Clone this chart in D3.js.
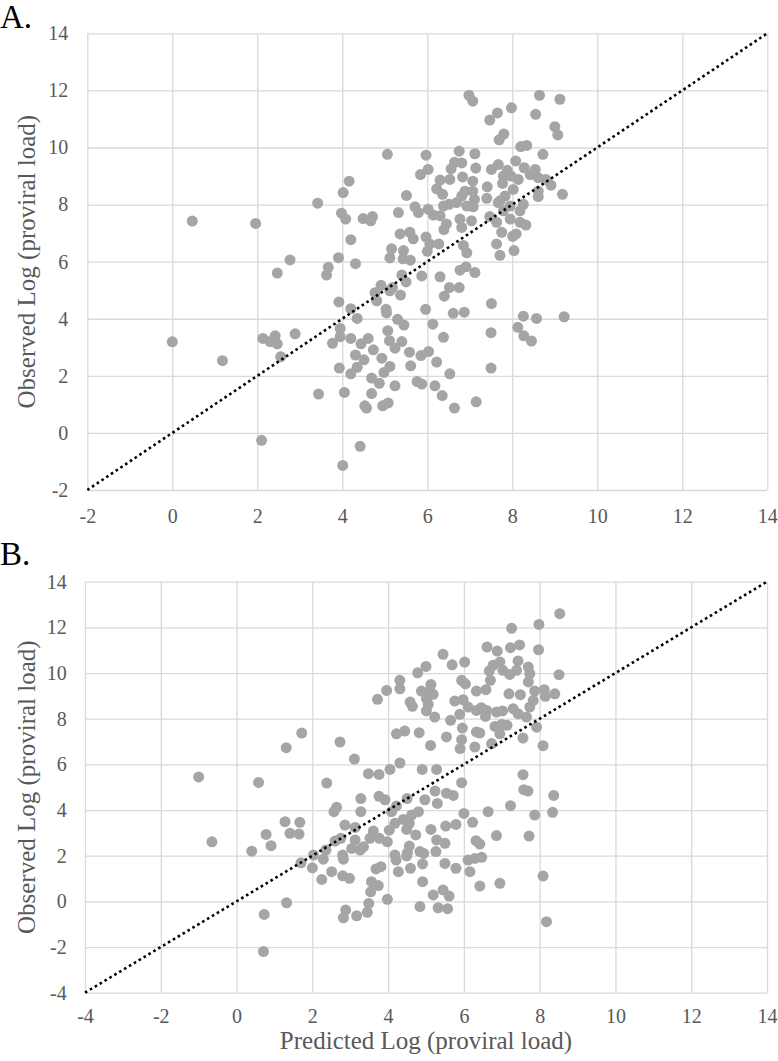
<!DOCTYPE html>
<html>
<head>
<meta charset="utf-8">
<script src="https://cdn.jsdelivr.net/npm/d3@7"></script>
<style>
  html, body { margin: 0; padding: 0; background: #ffffff; }
  svg { display: block; }
  text { font-family: 'Liberation Serif', 'Times New Roman', serif; }
</style>
</head>
<body>
<svg id="chart" width="778" height="1061"></svg>
<script>
// ---------- Panel A data ----------
const aX = [6.98,7.07,8.64,9.12,7.98,7.65,7.47,8.55,9.0,9.07,7.80,7.69,8.2,8.34,8.72,5.06,5.97,6.75,7.12,6.64,6.81,6.56,7.14,6.02,5.84,7.51,7.67,8.08,8.28,8.54,7.88,7.79,7.97,8.14,8.42,8.61,6.83,7.07,6.53,6.3,8.91,8.79,9.18,4.16,4.02,3.42,5.51,6.22,6.36,7.41,7.77,8.02,6.89,7.07,6.81,7.11,7.4,7.83,7.71,8.61,8.61,5.71,5.79,6.02,6.14,6.38,6.51,6.69,6.93,7.08,5.32,6.30,6.45,6.39,6.77,6.81,7.04,7.47,7.63,7.67,7.95,7.79,8.18,8.26,8.18,7.95,8.32,3.98,4.08,4.49,4.71,4.67,4.2,5.36,5.59,5.67,5.97,6.06,6.27,6.0,7.75,7.63,7.71,8.09,8.01,8.04,6.85,6.93,5.16,5.12,5.44,5.43,5.6,3.91,4.31,3.67,3.63,2.77,6.77,6.91,7.12,5.87,6.3,5.4,
  2.47,5.5,4.91,4.77,4.81,5.12,5.37,5.18,6.52,6.75,6.4,3.92,4.2,4.35,5.03,5.04,5.96,7.51,6.61,6.87,5.3,5.45,6.13,8.26,8.57,9.22,8.13,8.27,8.45,7.5,7.5,6.38,0.0,1.18,2.13,2.30,2.42,2.47,2.89,2.55,3.95,3.95,3.77,4.2,4.44,4.61,4.73,5.07,5.11,5.24,5.4,5.58,4.93,5.12,4.98,4.31,4.51,4.35,4.2,3.93,5.85,6.03,6.22,5.61,6.53,4.69,4.87,5.24,5.76,5.87,6.18,6.35,3.44,4.05,4.69,4.53,4.57,4.95,5.08,6.64,7.15,2.1,4.42,4.01,0.47,1.96];
const aY = [11.83,11.62,11.83,11.69,11.39,11.21,10.96,11.16,10.73,10.44,10.47,10.27,10.03,10.07,9.76,9.76,9.73,9.87,9.78,9.48,9.46,9.25,9.28,9.23,9.05,9.23,9.40,9.53,9.29,9.23,9.2,9.0,9.0,8.88,9.05,8.94,8.97,8.82,8.88,8.86,8.68,8.88,8.36,8.82,8.42,8.05,8.32,8.55,8.36,8.62,8.74,8.53,8.47,8.47,8.30,8.18,8.22,8.30,8.13,8.28,8.47,7.92,7.72,7.84,7.63,7.95,8.01,8.07,7.95,7.92,7.72,7.61,7.32,7.12,7.49,7.2,7.43,7.58,7.38,8.07,7.95,7.78,7.78,8.01,7.38,7.49,7.28,7.70,7.49,7.51,7.58,7.43,6.77,6.97,7.03,6.80,6.86,6.62,6.62,6.36,7.03,6.62,6.22,6.97,6.89,6.39,6.57,6.31,6.45,6.13,6.39,6.10,6.05,6.14,5.93,5.80,5.53,6.06,5.70,5.82,5.62,5.50,5.47,5.53,
  5.60,5.29,5.17,4.91,4.63,4.98,4.83,5.09,5.09,5.09,4.79,4.59,4.35,4.01,4.33,4.21,4.33,4.53,4.19,4.23,3.98,3.78,3.81,4.09,4.01,4.07,3.70,3.40,3.22,3.51,2.27,3.35,3.19,2.53,3.31,3.20,3.40,3.12,3.47,2.67,3.66,3.37,3.14,3.31,3.12,3.31,2.91,3.58,3.23,2.97,3.2,2.83,2.62,2.33,2.12,2.73,2.56,2.30,2.07,2.27,2.71,2.85,2.48,2.35,2.07,1.92,1.74,1.65,1.80,1.71,1.65,1.31,1.36,1.42,1.38,0.95,0.87,0.95,1.05,0.87,1.09,-0.26,-0.47,-1.14,7.42,7.34];

// ---------- Panel B data ----------
const bX = [8.53,7.26,7.98,7.97,6.61,6.88,7.23,7.47,5.45,5.69,6.02,5.0,4.78,4.31,4.31,3.96,3.72,5.13,4.88,5.1,5.19,5.01,5.06,4.58,4.64,5.01,5.23,5.65,5.89,5.76,5.98,5.94,6.04,6.11,6.33,6.58,6.7,6.67,6.77,6.95,7.03,7.21,7.43,7.39,7.7,7.74,7.7,8.51,7.19,7.49,7.87,8.12,8.15,8.40,7.83,7.74,7.30,7.43,7.65,6.46,6.6,6.33,6.57,6.86,7.02,5.96,5.54,5.94,5.90,6.33,6.42,6.29,6.73,6.82,7.0,7.14,6.95,7.56,7.92,8.09,4.22,4.44,4.82,5.12,1.72,2.73,3.11,2.38,3.48,3.76,4.05,4.31,4.9,5.28,5.94,7.56,7.58,7.69,8.37,3.28,3.76,3.92,4.5,4.97,5.24,5.54,5.72,
  4.22,5.30,8.34,7.87,7.72,7.23,6.64,6.0,6.23,6.86,6.32,6.42,6.11,6.29,6.47,6.16,6.42,6.95,8.09,8.18,-0.65,0.4,0.78,0.91,1.28,1.67,1.41,1.65,0.73,0.71,1.32,1.70,2.03,2.0,2.29,2.36,2.25,2.51,2.57,2.64,2.60,2.75,2.80,2.82,2.86,3.13,3.28,3.04,3.13,3.26,3.35,2.80,2.98,2.88,2.82,3.17,3.45,3.49,3.54,3.56,3.74,3.61,3.52,3.77,3.98,3.68,3.81,3.98,4.09,4.03,4.18,4.40,4.56,4.62,4.80,4.49,4.73,5.13,5.52,5.79,4.18,4.21,4.56,4.51,4.49,4.84,4.94,5.28,5.26,5.5,4.27,4.59,4.91,5.5,5.79,4.91,5.19,5.45,5.61,4.84,5.32,5.57,-1.0,0.58,1.31];
const bY = [12.6,11.96,12.13,11.02,11.14,10.96,11.11,11.23,10.82,10.36,10.48,10.29,10.01,9.68,9.31,9.24,8.85,9.50,9.21,9.21,9.07,8.88,8.63,8.73,8.54,8.34,8.07,7.93,8.19,8.77,8.83,9.68,9.53,8.51,9.21,9.27,9.68,10.09,10.34,10.48,10.12,9.94,10.53,10.12,10.26,9.97,9.61,9.93,9.09,9.05,9.21,9.27,8.98,9.09,8.80,8.51,8.44,8.22,8.07,8.48,8.36,8.36,8.10,8.29,8.34,7.59,7.20,7.08,6.69,7.42,7.37,6.76,6.91,7.66,7.75,7.71,7.34,7.15,7.63,6.82,7.34,7.46,7.39,6.83,7.37,6.98,6.23,5.18,5.59,5.56,5.78,6.06,5.78,5.78,5.2,5.55,4.89,4.83,4.64,4.50,4.60,4.45,4.50,4.45,4.83,4.74,4.64,
  4.18,4.29,3.90,3.78,2.86,4.19,3.93,3.85,3.46,2.88,2.66,2.51,1.81,1.88,1.93,1.30,0.67,0.79,1.11,-0.89,2.61,2.2,2.93,2.44,3.49,3.46,2.98,2.95,-0.57,-2.20,-0.06,1.69,2.03,1.47,1.85,2.25,0.96,1.30,3.93,4.12,2.64,2.76,2.03,1.85,3.34,3.24,3.93,2.32,2.69,2.25,2.39,1.12,1.01,-0.38,-0.72,-0.63,-0.48,-0.09,0.42,0.86,0.69,3.08,2.76,2.76,2.61,1.42,1.52,0.09,3.93,3.12,3.42,3.59,3.42,3.78,3.93,3.15,2.91,3.15,3.30,3.37,2.03,1.81,2.42,2.13,1.99,2.18,2.10,2.69,2.18,2.54,1.30,1.45,1.64,1.66,1.45,0.86,0.28,0.50,0.23,-0.23,-0.28,-0.32,5.45,5.21,6.73];

// ---------- ticks & labels ----------
const aXTicks = [-2, 0, 2, 4, 6, 8, 10, 12, 14];
const aYTicks = [-2, 0, 2, 4, 6, 8, 10, 12, 14];
const bXTicks = [-4, -2, 0, 2, 4, 6, 8, 10, 12, 14];
const bYTicks = [-4, -2, 0, 2, 4, 6, 8, 10, 12, 14];
const panelLabels = ["A.", "B."];
const yTitle = "Observed Log (proviral load)";
const xTitle = "Predicted Log (proviral load)";

const svg = d3.select("#chart");
const FONT = "'Liberation Serif', 'Times New Roman', serif";
const GRID = "#d9d9d9";
const TEXT = "#595959";
const DOT = "#a5a5a5";

function panel(cfg) {
  const xs = d3.scaleLinear().domain(cfg.xDom).range([cfg.left, cfg.right]);
  const ys = d3.scaleLinear().domain(cfg.yDom).range([cfg.bottom, cfg.top]);
  const g = svg.append("g");

  // vertical grid + x tick labels
  const xa = g.append("g").attr("transform", `translate(0,${cfg.bottom})`)
    .call(d3.axisBottom(xs).tickValues(cfg.xTicks).tickFormat(d => String(d))
      .tickSize(-(cfg.bottom - cfg.top)).tickPadding(cfg.xPad));
  xa.attr("font-family", FONT).attr("font-size", 20);
  xa.select(".domain").remove();
  xa.selectAll("line").attr("stroke", GRID).attr("stroke-width", 1.3);
  xa.selectAll("text").attr("fill", TEXT).attr("font-family", FONT)
    .style("font-family", FONT).style("font-size", "20px");

  // horizontal grid + y tick labels
  const ya = g.append("g").attr("transform", `translate(${cfg.left},0)`)
    .call(d3.axisLeft(ys).tickValues(cfg.yTicks).tickFormat(d => String(d))
      .tickSize(-(cfg.right - cfg.left)).tickPadding(cfg.yPad));
  ya.attr("font-family", FONT).attr("font-size", 20);
  ya.select(".domain").remove();
  ya.selectAll("line").attr("stroke", GRID).attr("stroke-width", 1.3);
  ya.selectAll("text").attr("fill", TEXT).attr("font-family", FONT)
    .style("font-family", FONT).style("font-size", "20px");

  // points
  const pts = cfg.xs.map((x, i) => [x, cfg.ys[i]]);
  g.append("g").selectAll("circle").data(pts).join("circle")
    .attr("cx", d => xs(d[0])).attr("cy", d => ys(d[1])).attr("r", 5.5)
    .attr("fill", DOT);

  // 1:1 dotted line
  const lo = cfg.xDom[0], hi = cfg.xDom[1];
  g.append("line")
    .attr("x1", xs(lo)).attr("y1", ys(lo)).attr("x2", xs(hi)).attr("y2", ys(hi))
    .attr("stroke", "#000").attr("stroke-width", 2.6).attr("stroke-dasharray", "2.6 3.1");

  // y title
  const cy = (cfg.top + cfg.bottom) / 2;
  g.append("text").attr("transform", `translate(${cfg.yTitleX},${cy}) rotate(-90)`)
    .attr("text-anchor", "middle").attr("fill", TEXT)
    .style("font-family", FONT).style("font-size", "25px").text(yTitle);

  // panel label
  g.append("text").attr("x", 0).attr("y", cfg.labelY).attr("fill", "#000")
    .style("font-family", FONT).style("font-size", "33px").text(cfg.label);
  return { xs, ys };
}

const A = panel({
  left: 87.3, right: 767.3, top: 33.3, bottom: 490,
  xDom: [-2, 14], yDom: [-2, 14], xTicks: aXTicks, yTicks: aYTicks,
  xs: aX, ys: aY, xPad: 19, yPad: 19, yTitleX: 35, label: panelLabels[0], labelY: 28
});
const B = panel({
  left: 85, right: 767, top: 581.7, bottom: 992.7,
  xDom: [-4, 14], yDom: [-4, 14], xTicks: bXTicks, yTicks: bYTicks,
  xs: bX, ys: bY, xPad: 16, yPad: 18.3, yTitleX: 35, label: panelLabels[1], labelY: 565
});

svg.append("text").attr("x", (85 + 767) / 2).attr("y", 1049)
  .attr("text-anchor", "middle").attr("fill", TEXT)
  .style("font-family", FONT).style("font-size", "25px").text(xTitle);
</script>
</body>
</html>
